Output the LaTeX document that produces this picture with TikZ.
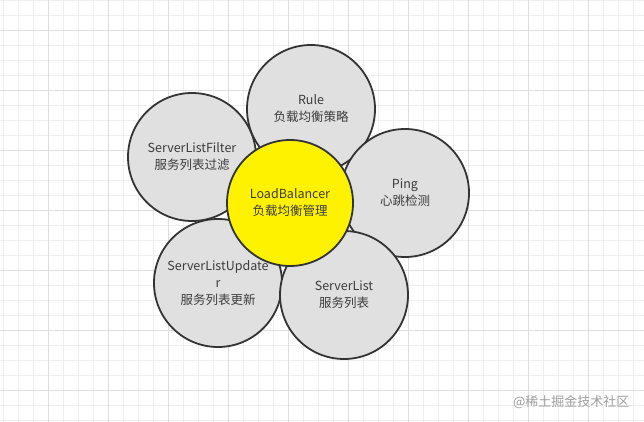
\documentclass[tikz,border=0pt]{standalone}
\usepackage{fontspec}
\setmainfont{Noto Sans CJK SC}
\definecolor{gridminor}{RGB}{238,238,238}
\definecolor{gridmajor}{RGB}{222,222,222}
\definecolor{petal}{RGB}{224,224,224}
\definecolor{edge}{RGB}{51,51,51}
\definecolor{txt}{RGB}{60,60,60}
\begin{document}
\begin{tikzpicture}[x=1pt,y=-1pt,
  petalnode/.style={circle,draw=edge,line width=1.8pt,fill=petal,minimum size=128pt,inner sep=0pt,
    align=center,text=txt,font=\fontsize{12.5}{17}\selectfont},
  centernode/.style={petalnode,fill=yellow,minimum size=126pt}]
\useasboundingbox (0,0) rectangle (644,422);
\fill[white] (0,0) rectangle (644,422);
\foreach \x in {3,18,...,644} \draw[gridminor,line width=0.6pt] (\x,0) -- (\x,422);
\foreach \y in {0,15,...,422} \draw[gridminor,line width=0.6pt] (0,\y) -- (644,\y);
\foreach \x in {48,108,...,644} \draw[gridmajor,line width=0.8pt] (\x,0) -- (\x,422);
\foreach \y in {30,90,...,422} \draw[gridmajor,line width=0.8pt] (0,\y) -- (644,\y);
\node[petalnode] (filter) at (192,157) {ServerListFilter\\服务列表过滤};
\node[petalnode] (updater) at (218,283) {ServerListUpdate\\r\\服务列表更新};
\node[petalnode] (rule) at (311,109) {Rule\\负载均衡策略};
\node[petalnode] (ping) at (405,193) {Ping\\心跳检测};
\node[petalnode] (list) at (344,295) {ServerList\\服务列表};
\node[centernode] (lb) at (290,203) {LoadBalancer\\负载均衡管理};
\node[text=black!38,font=\fontsize{13}{15}\selectfont,anchor=east] (wm) at (633,402) {@稀土掘金技术社区};
\end{tikzpicture}
\end{document}
